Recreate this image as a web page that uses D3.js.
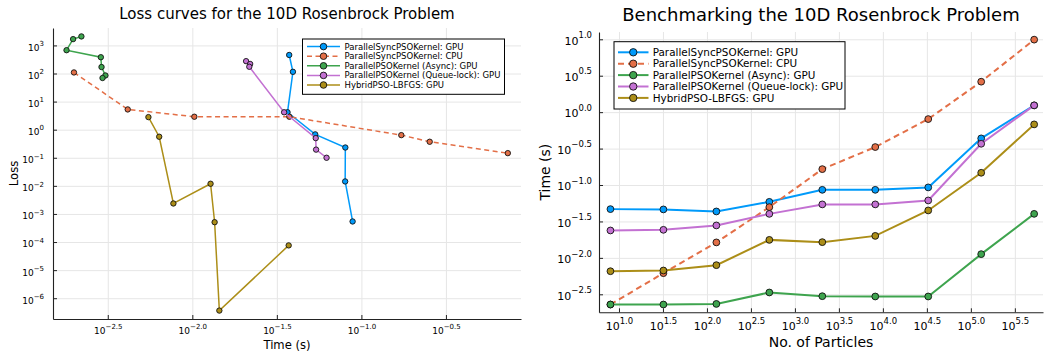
<!DOCTYPE html>
<html>
<head>
<meta charset="utf-8">
<script src="https://cdn.jsdelivr.net/npm/d3@7"></script>
<style>
  body { margin: 0; background: #fff; }
  text { font-family: "DejaVu Sans", sans-serif; fill: #000; }
</style>
</head>
<body>
<svg id="chart" width="1045" height="352"></svg>
<script>
// series names (same in both panels)
const seriesNames = [
  'ParallelSyncPSOKernel: GPU',
  'ParallelSyncPSOKernel: CPU',
  'ParallelPSOKernel (Async): GPU',
  'ParallelPSOKernel (Queue-lock): GPU',
  'HybridPSO-LBFGS: GPU'
];

// left panel: loss vs time (s)
const syncGpuTime = [0.03741, 0.03936, 0.03656, 0.05333, 0.08035, 0.08017, 0.08872];
const syncGpuLoss = [457, 114.8, 4.17, 0.681, 0.2317, 0.01436, 0.00054];
const syncCpuTime = [0.001995, 0.00415, 0.01028, 0.0375, 0.1722, 0.2535, 0.7345];
const syncCpuLoss = [109.1, 5.26, 2.89, 2.89, 0.64, 0.3715, 0.1462];
const asyncGpuTime = [0.002208, 0.001972, 0.001803, 0.002877, 0.002904, 0.003062, 0.002944];
const asyncGpuLoss = [2089, 1675, 676, 380, 170, 85.1, 69.2];
const queueGpuTime = [0.0208, 0.02198, 0.02173, 0.03491, 0.0537, 0.05395, 0.06223];
const queueGpuLoss = [275, 218.8, 173.8, 4.17, 0.501, 0.195, 0.1];
const hybridGpuTime = [0.0055, 0.00637, 0.007727, 0.01282, 0.01355, 0.01445, 0.03715];
const hybridGpuLoss = [2.8, 0.561, 0.00236, 0.01189, 0.000509, 3.63e-7, 7.59e-5];

// right panel: time (s) vs no. of particles
const particles = [8, 32, 128, 512, 2048, 8192, 32768, 131072, 524288];
const benchSyncGpu = [0.04667, 0.04624, 0.04335, 0.05875, 0.0859, 0.0859, 0.0927, 0.4365, 1.239];
const benchSyncCpu = [0.00229, 0.00617, 0.0163, 0.0497, 0.1652, 0.3319, 0.8035, 2.618, 9.886];
const benchAsyncGpu = [0.00229, 0.00229, 0.002333, 0.00335, 0.002979, 0.002951, 0.002951, 0.01125, 0.04018];
const benchQueueGpu = [0.02377, 0.02427, 0.02786, 0.04018, 0.0542, 0.0542, 0.0614, 0.3681, 1.239];
const benchHybridGpu = [0.00656, 0.00671, 0.00794, 0.01766, 0.01644, 0.02004, 0.04477, 0.1472, 0.6792];

// tick exponents and their labels
const lossXExp = [-2.5, -2.0, -1.5, -1.0, -0.5];
const lossXLabels = ['\u22122.5', '\u22122.0', '\u22121.5', '\u22121.0', '\u22120.5'];
const lossYExp = [3, 2, 1, 0, -1, -2, -3, -4, -5, -6];
const lossYLabels = ['3', '2', '1', '0', '\u22121', '\u22122', '\u22123', '\u22124', '\u22125', '\u22126'];
const benchXExp = [1.0, 1.5, 2.0, 2.5, 3.0, 3.5, 4.0, 4.5, 5.0, 5.5];
const benchXLabels = ['1.0', '1.5', '2.0', '2.5', '3.0', '3.5', '4.0', '4.5', '5.0', '5.5'];
const benchYExp = [1.0, 0.5, 0.0, -0.5, -1.0, -1.5, -2.0, -2.5];
const benchYLabels = ['1.0', '0.5', '0.0', '\u22120.5', '\u22121.0', '\u22121.5', '\u22122.0', '\u22122.5'];

const colors = ['#009AFA', '#E36F47', '#3EA44E', '#C371D2', '#AC8E18'];
const dashes = [null, 'dash', null, null, null];

const svg = d3.select('#chart');

function drawPanel(p) {
  const x = d3.scaleLog().domain(p.xDomain).range([p.left, p.right]);
  const y = d3.scaleLog().domain(p.yDomain).range([p.bottom, p.top]);
  const xTicks = p.xExp.map(e => Math.pow(10, e));
  const yTicks = p.yExp.map(e => Math.pow(10, e));
  const g = svg.append('g');

  // grid
  g.append('g')
    .attr('transform', 'translate(0,' + p.bottom + ')')
    .call(d3.axisBottom(x).tickValues(xTicks).tickSize(-(p.bottom - p.top)).tickFormat(''))
    .call(a => a.select('.domain').remove())
    .call(a => a.selectAll('line').attr('stroke', '#e6e6e6').attr('stroke-width', 1));
  g.append('g')
    .attr('transform', 'translate(' + p.left + ',0)')
    .call(d3.axisLeft(y).tickValues(yTicks).tickSize(-(p.right - p.left)).tickFormat(''))
    .call(a => a.select('.domain').remove())
    .call(a => a.selectAll('line').attr('stroke', '#e6e6e6').attr('stroke-width', 1));

  // axes with inward ticks
  const xAxis = g.append('g')
    .attr('transform', 'translate(0,' + p.bottom + ')')
    .call(d3.axisBottom(x).tickValues(xTicks).tickSizeInner(-4).tickSizeOuter(0).tickPadding(p.xPad));
  const yAxis = g.append('g')
    .attr('transform', 'translate(' + p.left + ',0)')
    .call(d3.axisLeft(y).tickValues(yTicks).tickSizeInner(-4).tickSizeOuter(0).tickPadding(p.yPad));
  [xAxis, yAxis].forEach(a => {
    a.select('.domain').attr('stroke', '#222').attr('stroke-width', 1.1);
    a.selectAll('.tick line').attr('stroke', '#222');
  });

  function power(sel, labels, dy) {
    sel.selectAll('.tick text').each(function(d, i) {
      const t = d3.select(this).text(null)
        .attr('font-family', '"DejaVu Sans", sans-serif')
        .attr('font-size', p.tickSize).attr('dy', dy);
      t.append('tspan').text('10');
      t.append('tspan').attr('font-size', p.supSize).attr('dy', -p.supRaise).text(labels[i]);
    });
  }
  power(xAxis, p.xLabels, '0.71em');
  power(yAxis, p.yLabels, p.yDy);

  // series
  const line = d3.line().x(d => x(d[0])).y(d => y(d[1]));
  p.series.forEach((s, k) => {
    const pts = s.xs.map((v, i) => [v, s.ys[i]]);
    g.append('path').datum(pts)
      .attr('d', line).attr('fill', 'none')
      .attr('stroke', colors[k]).attr('stroke-width', p.lw)
      .attr('stroke-dasharray', dashes[k] ? p.dash : null);
    g.selectAll(null).data(pts).enter().append('circle')
      .attr('cx', d => x(d[0])).attr('cy', d => y(d[1]))
      .attr('r', p.r).attr('fill', colors[k])
      .attr('stroke', '#111').attr('stroke-width', 0.9);
  });

  // title and labels
  g.append('text').attr('x', (p.left + p.right) / 2).attr('y', p.titleY)
    .attr('text-anchor', 'middle').attr('font-size', p.titleSize).text(p.title);
  g.append('text').attr('x', (p.left + p.right) / 2).attr('y', p.xLabelY)
    .attr('text-anchor', 'middle').attr('font-size', p.labelSize).text(p.xLabel);
  g.append('text')
    .attr('transform', 'translate(' + p.yLabelX + ',' + (p.top + p.bottom) / 2 + ') rotate(-90)')
    .attr('text-anchor', 'middle').attr('font-size', p.labelSize).text(p.yLabel);

  // legend
  const L = p.legend;
  g.append('rect').attr('x', L.x0).attr('y', L.y0)
    .attr('width', L.x1 - L.x0).attr('height', L.y1 - L.y0)
    .attr('fill', '#fff').attr('stroke', '#000').attr('stroke-width', 1);
  seriesNames.forEach((name, k) => {
    const yy = L.row0 + k * L.step;
    g.append('line').attr('x1', L.lx0).attr('x2', L.lx1).attr('y1', yy).attr('y2', yy)
      .attr('stroke', colors[k]).attr('stroke-width', p.lw)
      .attr('stroke-dasharray', dashes[k] ? p.dash : null);
    g.append('circle').attr('cx', (L.lx0 + L.lx1) / 2).attr('cy', yy).attr('r', L.r)
      .attr('fill', colors[k]).attr('stroke', '#111').attr('stroke-width', 0.9);
    g.append('text').attr('x', L.tx).attr('y', yy).attr('dy', '0.36em')
      .attr('font-size', L.fs).text(name);
  });
}

drawPanel({
  left: 53, right: 521, top: 28, bottom: 319,
  xDomain: [Math.pow(10, -2.824), Math.pow(10, -0.056)],
  yDomain: [Math.pow(10, -6.74), Math.pow(10, 3.62)],
  xExp: lossXExp, xLabels: lossXLabels, yExp: lossYExp, yLabels: lossYLabels,
  xPad: 8.6, yPad: 9, yDy: '0.55em', tickSize: 9, supSize: 7, supRaise: 4.7,
  lw: 1.5, dash: '5,3.5', r: 2.7,
  title: 'Loss curves for the 10D Rosenbrock Problem', titleSize: 15, titleY: 19,
  xLabel: 'Time (s)', xLabelY: 348.5, yLabel: 'Loss', yLabelX: 18, labelSize: 11.6,
  series: [
    { xs: syncGpuTime, ys: syncGpuLoss },
    { xs: syncCpuTime, ys: syncCpuLoss },
    { xs: asyncGpuTime, ys: asyncGpuLoss },
    { xs: queueGpuTime, ys: queueGpuLoss },
    { xs: hybridGpuTime, ys: hybridGpuLoss }
  ],
  legend: { x0: 302.5, x1: 504.5, y0: 39, y1: 94.3, row0: 46.6, step: 9.6,
            lx0: 307, lx1: 340, r: 3.3, tx: 344.5, fs: 8.5 }
});

drawPanel({
  left: 599, right: 1043, top: 32, bottom: 312.3,
  xDomain: [Math.pow(10, 0.773), Math.pow(10, 5.82)],
  yDomain: [Math.pow(10, -2.747), Math.pow(10, 1.1)],
  xExp: benchXExp, xLabels: benchXLabels, yExp: benchYExp, yLabels: benchYLabels,
  xPad: 10.2, yPad: 7, yDy: '0.43em', tickSize: 11, supSize: 8.5, supRaise: 6.5,
  lw: 2, dash: '6,4', r: 3.4,
  title: 'Benchmarking the 10D Rosenbrock Problem', titleSize: 18, titleY: 21,
  xLabel: 'No. of Particles', xLabelY: 346.5, yLabel: 'Time (s)', yLabelX: 550, labelSize: 14,
  series: [
    { xs: particles, ys: benchSyncGpu },
    { xs: particles, ys: benchSyncCpu },
    { xs: particles, ys: benchAsyncGpu },
    { xs: particles, ys: benchQueueGpu },
    { xs: particles, ys: benchHybridGpu }
  ],
  legend: { x0: 614, x1: 845, y0: 41.7, y1: 109, row0: 52.3, step: 11.4,
            lx0: 618, lx1: 648.5, r: 3.7, tx: 652.7, fs: 10.4 }
});
</script>
</body>
</html>
